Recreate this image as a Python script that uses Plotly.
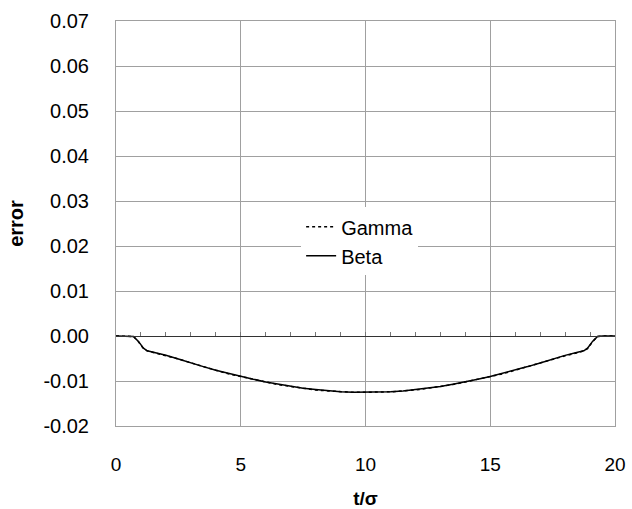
import plotly.graph_objects as go

t_half = [0, 0.5, 0.7, 0.9, 1.1, 1.25, 1.5, 2, 2.5, 3, 3.5, 4, 4.5, 5, 5.5, 6, 6.5, 7, 7.5, 8, 8.5, 9, 9.5, 10]
beta_half = [0, 0, -0.0001, -0.0012, -0.0027, -0.0033, -0.0036, -0.0043, -0.0051, -0.0060, -0.0068, -0.0076,
             -0.0083, -0.0090, -0.0096, -0.0102, -0.0107, -0.0112, -0.0116, -0.0119, -0.0122, -0.0124, -0.0125, -0.0125]
gamma_half = [0, 0, -0.0001, -0.0013, -0.0028, -0.0033, -0.0037, -0.0044, -0.0051, -0.0060, -0.0068, -0.0076,
              -0.0084, -0.0090, -0.0096, -0.0102, -0.0108, -0.0112, -0.0116, -0.0120, -0.0122, -0.0124, -0.0125, -0.0125]

y_tickvals = [-0.02, -0.01, 0.0, 0.01, 0.02, 0.03, 0.04, 0.05, 0.06, 0.07]
y_ticktext = ["-0.02", "-0.01", "0.00", "0.01", "0.02", "0.03", "0.04", "0.05", "0.06", "0.07"]
x_tickvals = [0, 5, 10, 15, 20]
x_ticktext = ["0", "5", "10", "15", "20"]
minor_tickvals = list(range(1, 20))

t = t_half + [20 - v for v in reversed(t_half[:-1])]
beta = beta_half + list(reversed(beta_half[:-1]))
gamma = gamma_half + list(reversed(gamma_half[:-1]))

FONT = "Liberation Sans, Arial, sans-serif"
grid = "#a0a0a0"

fig = go.Figure()
fig.add_trace(go.Scatter(x=t, y=gamma, mode="lines", name="Gamma",
                         line=dict(color="black", width=1.5, dash="dot")))
fig.add_trace(go.Scatter(x=t, y=beta, mode="lines", name="Beta",
                         line=dict(color="black", width=1.5)))
fig.add_trace(go.Scatter(x=[0, 20], y=[0, 0], xaxis="x2", mode="lines",
                         line=dict(width=0), showlegend=False, hoverinfo="skip"))

fig.update_layout(
    width=632, height=509,
    margin=dict(l=116, r=17, t=21, b=83, autoexpand=False),
    paper_bgcolor="white", plot_bgcolor="white",
    font=dict(family=FONT, size=20, color="black"),
    showlegend=True,
    legend=dict(x=0.371, y=0.54, xanchor="left", yanchor="top",
                bgcolor="white", font=dict(size=20, family=FONT),
                tracegroupgap=0, itemwidth=30),
    xaxis=dict(range=[0, 20], tickvals=x_tickvals, ticktext=x_ticktext, showgrid=True,
               gridcolor=grid, gridwidth=1, automargin=False, ticklabeloverflow="allow",
               showline=True, linecolor=grid, mirror=True, zeroline=False,
               ticks="", ticklabelstandoff=21, tickfont=dict(size=19),
               title=dict(text="<b>t/σ</b>", font=dict(size=19), standoff=21)),
    yaxis=dict(range=[-0.02, 0.07], tickvals=y_tickvals, ticktext=y_ticktext, showgrid=True,
               gridcolor=grid, gridwidth=1, showline=True, linecolor=grid, mirror=True,
               zeroline=False, ticks="", ticklabelstandoff=22, automargin=False,
               title=dict(text="<b>error</b>", font=dict(size=20), standoff=14)),
    xaxis2=dict(range=[0, 20], tickmode="array", tickvals=minor_tickvals, overlaying="x",
                side="top", anchor="free", position=(0 - (-0.02)) / 0.09,
                showgrid=False, zeroline=False,
                showline=True, linecolor="#333333", linewidth=1, automargin=False,
                ticks="outside", ticklen=4, tickwidth=1, tickcolor="#777777",
                showticklabels=False),
)

fig.write_html("out.html", config={"displayModeBar": False},
               post_script="document.body.style.margin='0';document.body.style.overflow='hidden';")
